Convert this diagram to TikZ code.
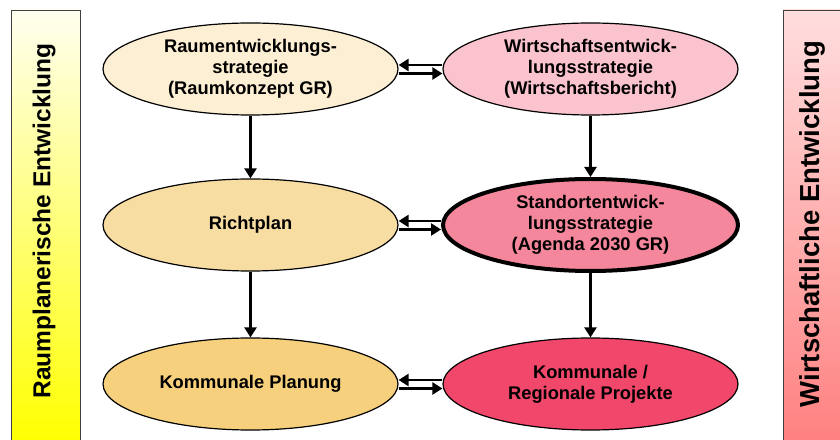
\documentclass[tikz,border=0pt]{standalone}
\usepackage{fontspec}
\setmainfont{Liberation Sans}
\usetikzlibrary{shapes.geometric,arrows.meta}
\definecolor{cTL}{HTML}{FDEFD3}
\definecolor{cML}{HTML}{F8DDA2}
\definecolor{cBL}{HTML}{F6D07C}
\definecolor{cTR}{HTML}{FAC3CD}
\definecolor{cMR}{HTML}{F5879C}
\definecolor{cBR}{HTML}{F1476A}
\definecolor{barline}{HTML}{404040}
\tikzset{
  x=1pt,y=1pt,
  oval/.style={ellipse, draw=black, line width=1.2pt, minimum width=295pt, minimum height=92pt, inner sep=0pt,
    align=center, font=\fontsize{18.3}{21}\selectfont\bfseries},
  vline/.style={line width=2.4pt, -{Triangle[width=12pt,length=10pt]}},
  hline/.style={line width=2.4pt, -{Triangle[width=12pt,length=10pt]}},
  sidetext/.style={rotate=90, font=\fontsize{24.5}{28}\selectfont\bfseries},
}
\begin{document}
\begin{tikzpicture}
\useasboundingbox (0,0) rectangle (840,439);
% side bars
\draw[barline, line width=0.8pt, top color=yellow!6, bottom color=yellow] (11,-5) rectangle (80,429);
\node[sidetext] (lt) at (44,218) {Raumplanerische Entwicklung};
\draw[barline, line width=0.8pt, top color={rgb,255:red,255;green,222;blue,222}, bottom color={rgb,255:red,255;green,128;blue,128}] (783,-5) rectangle (850,429);
\node[sidetext, font=\fontsize{27.5}{30}\selectfont\bfseries] (rt) at (812,215) {Wirtschaftliche Entwicklung};
% ellipses
\node[oval, fill=cTL] (tl) at (250.5,370) {Raumentwicklungs-\\strategie\\(Raumkonzept GR)};
\node[oval, fill=cML] (ml) at (250.5,214) {Richtplan};
\node[oval, fill=cBL] (bl) at (250.5,55) {Kommunale Planung};
\node[oval, fill=cTR] (tr) at (590.5,370) {Wirtschaftsentwick-\\lungsstrategie\\(Wirtschaftsbericht)};
\node[oval, fill=cMR, line width=4pt] (mr) at (590.5,214) {Standortentwick-\\lungsstrategie\\(Agenda 2030 GR)};
\node[oval, fill=cBR] (br) at (590.5,55) {Kommunale /\\Regionale Projekte};
% vertical arrows
\draw[vline] (tl.south) -- (ml.north);
\draw[vline] (ml.south) -- (bl.north);
\draw[vline] (tr.south) -- (mr.north);
\draw[vline] (mr.south) -- (br.north);
% horizontal double arrows
\foreach \a/\b in {tl/tr, ml/mr, bl/br}{
  \draw[hline] ([yshift=4pt]\b.west) -- ([yshift=4pt]\a.east);
  \draw[hline] ([yshift=-4.5pt]\a.east) -- ([yshift=-4.5pt]\b.west);
}
\end{tikzpicture}
\end{document}
